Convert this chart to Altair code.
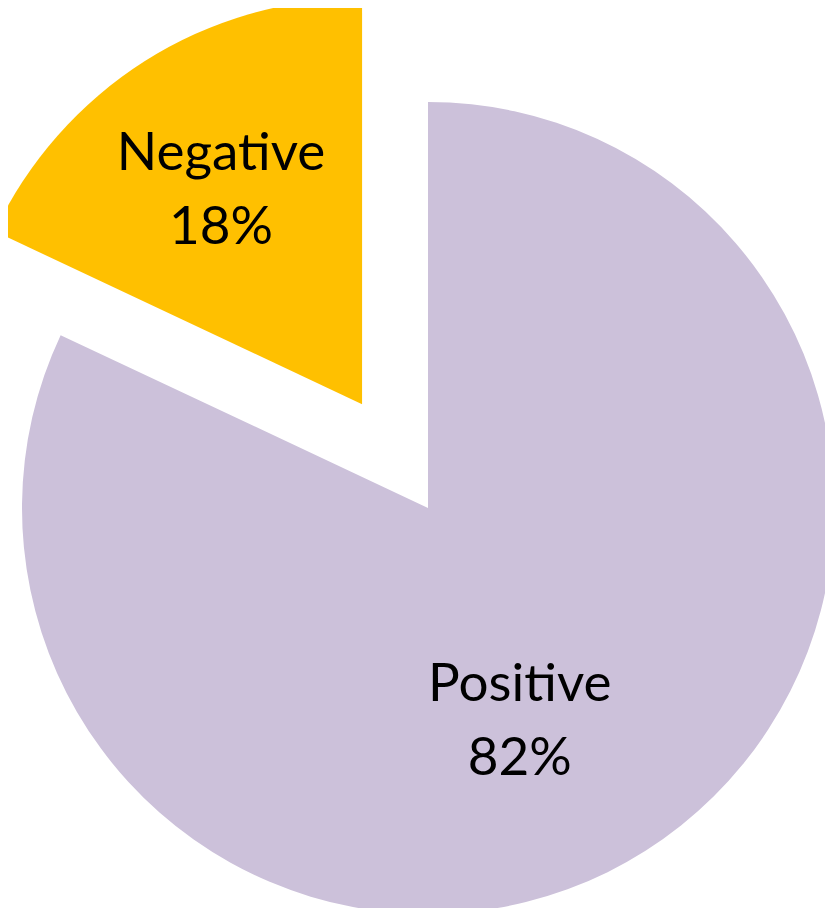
import math
import altair as alt
import pandas as pd

categories = ["Positive", "Negative"]
values = [82, 18]
colors = ["#CCC1DA", "#FFC000"]

total = sum(values)
starts, ends = [], []
acc = 0
for v in values:
    starts.append(acc)
    acc += v
    ends.append(acc)

df = pd.DataFrame({
    "category": categories,
    "value": values,
    "start": starts,
    "end": ends,
    "mid": [(s + e) / 2 for s, e in zip(starts, ends)],
    "label": [f"{c}\n{round(v / total * 100)}%" for c, v in zip(categories, values)],
})

CX, CY, R = 420, 500, 406
EXPLODE = 123

def explode_offset(mid):
    ang = mid / total * 2 * math.pi
    return EXPLODE * math.sin(ang), -EXPLODE * math.cos(ang)

neg_mid = df.loc[df.category == "Negative", "mid"].iloc[0]
ndx, ndy = explode_offset(neg_mid)

theta_scale = alt.Scale(domain=[0, total])
color_scale = alt.Scale(domain=categories, range=colors)

base = alt.Chart(df)

pos_arc = base.transform_filter(alt.datum.category == "Positive").mark_arc(
    outerRadius=R, innerRadius=0
).encode(
    theta=alt.Theta("start:Q", scale=theta_scale),
    theta2="end:Q",
    color=alt.Color("category:N", scale=color_scale, legend=None),
    x=alt.value(CX), y=alt.value(CY),
)

neg_arc = base.transform_filter(alt.datum.category == "Negative").mark_arc(
    outerRadius=R, innerRadius=0
).encode(
    theta=alt.Theta("start:Q", scale=theta_scale),
    theta2="end:Q",
    color=alt.Color("category:N", scale=color_scale, legend=None),
    x=alt.value(CX + ndx), y=alt.value(CY + ndy),
)

font = "Lato"
fsize = 53

pos_text = base.transform_filter(alt.datum.category == "Positive").mark_text(
    radius=231, font=font, fontSize=fsize, color="black", lineBreak="\n",
    lineHeight=74, align="center", baseline="middle", dx=-32, dy=-18,
).encode(
    theta=alt.Theta("mid:Q", scale=theta_scale),
    text="label:N",
    x=alt.value(CX), y=alt.value(CY),
)

neg_text = base.transform_filter(alt.datum.category == "Negative").mark_text(
    radius=252, font=font, fontSize=fsize, color="black", lineBreak="\n",
    lineHeight=74, align="center", baseline="middle", dx=-6, dy=-37,
).encode(
    theta=alt.Theta("mid:Q", scale=theta_scale),
    text="label:N",
    x=alt.value(CX + ndx), y=alt.value(CY + ndy),
)

chart = alt.layer(pos_arc, neg_arc, pos_text, neg_text).properties(
    width=817, height=900, padding=0, autosize=alt.AutoSizeParams(type="none"),
    background="white",
).configure_view(stroke=None)

chart.save("out.html", embed_options={"renderer": "svg", "actions": False})
